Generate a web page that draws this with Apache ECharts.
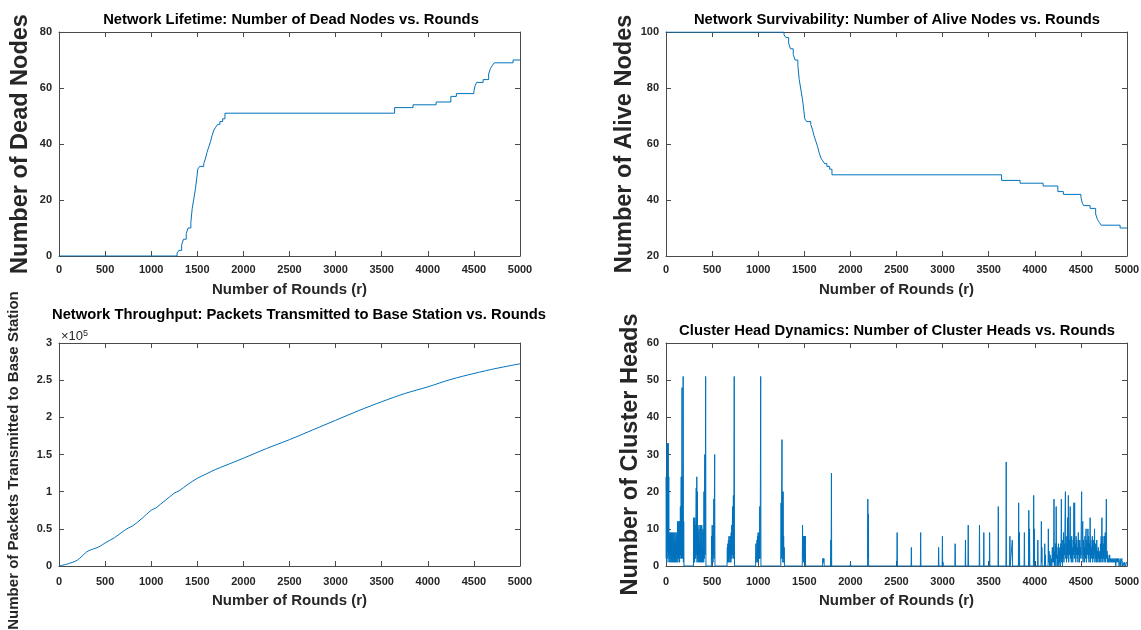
<!DOCTYPE html>
<html><head><meta charset="utf-8">
<script src="https://cdn.jsdelivr.net/npm/echarts@6/dist/echarts.min.js"></script>
<style>html,body{margin:0;padding:0;background:#fff}#c{width:1141px;height:630px}</style>
</head><body><div id="c"></div>
<script>
// ---- data ----
const stepRounds = [0,1280,1300,1330,1350,1380,1400,1430,1445,1460,1480,1495,1505,1525,1570,1590,1605,1625,1645,1660,1680,1700,1720,1745,1775,1800,3640,3840,4090,4250,4310,4500,4515,4530,4600,4660,4680,4700,4720,4925,5000];
const deadNodes  = [0,1,2,4,6,8,10,12,17,20,24,28,31,32,33,35,37,39,41,43,45,46,47,48,49,51,53,54,55,57,58,59,61,62,63,65,67,68,69,70,70];
const aliveNodes = [100,99,98,96,94,92,90,88,83,80,76,72,69,68,67,65,63,61,59,57,55,54,53,52,51,49,47,46,45,43,42,41,39,38,37,35,33,32,31,30,30];

const throughputRounds = [0,100,200,300,350,400,450,500,600,700,750,800,900,1000,1050,1100,1200,1250,1300,1400,1500,1600,1700,1800,2000,2250,2500,2750,3000,3250,3500,3750,4000,4250,4500,4750,5000];
const packetsToBS = [0,3000,8000,19000,22000,24000,27000,31000,38000,47000,51000,54000,64000,75000,78000,83000,93000,98000,101000,110000,118000,124000,130000,135000,145000,158000,170000,183000,196000,209000,221000,232000,241000,251000,259000,266000,272000];

const clusterHeadPoints = [
[0,24],[3,2],[6,20],[9,1],[12,33],[15,4],[18,33],[21,2],[24,33],[27,3],[30,24],[33,1],[36,9],[39,2],[42,7],[45,1],[48,9],[51,3],[54,6],[57,1],[60,9],[63,2],[66,8],[69,1],[72,9],[75,3],[78,5],[81,1],[84,9],[87,2],[90,7],[93,1],[96,9],[99,2],[102,6],[105,1],[108,9],[111,3],[114,8],[117,1],[120,9],[123,2],[126,12],[129,1],[132,12],[135,2],[138,10],[141,3],[144,12],[147,1],[150,12],[153,2],[156,16],[159,3],[162,12],[165,24],[168,2],[171,16],[174,48],[177,2],[180,24],[183,3],[186,51],[189,1],[192,12],[195,0],
[298,0],[301,13],[304,2],[307,12],[310,1],[313,13],[316,3],[319,11],[322,2],[325,13],[328,21],[331,3],[334,24],[337,1],[340,20],[343,2],[346,10],[349,1],[352,9],[355,3],[358,11],[361,1],[364,6],[367,2],[370,10],[373,1],[376,11],[379,3],[382,7],[385,1],[388,11],[391,2],[394,5],[397,1],[400,10],[403,2],[406,9],[409,1],[412,20],[415,2],[418,20],[421,30],[424,3],[427,20],[430,51],[433,0],
[492,0],[495,8],[498,1],[501,11],[504,2],[507,9],[510,1],[513,11],[516,3],[519,18],[522,2],[525,18],[528,30],[531,0],
[662,0],[665,5],[668,1],[671,6],[674,2],[677,7],[680,1],[683,8],[686,3],[689,6],[692,1],[695,8],[698,2],[701,8],[704,1],[707,9],[710,3],[713,11],[716,2],[719,10],[722,16],[725,3],[728,12],[731,19],[734,2],[737,19],[740,51],[743,0],
[972,0],[975,6],[978,1],[981,4],[984,2],[987,7],[990,1],[993,8],[996,2],[999,9],[1002,1],[1005,8],[1008,3],[1011,9],[1014,2],[1017,16],[1020,2],[1023,16],[1027,51],[1030,0],
[1245,0],[1248,17],[1251,2],[1254,17],[1258,34],[1261,3],[1264,20],[1267,1],[1270,20],[1273,2],[1276,8],[1279,1],[1282,5],[1285,0],
[1478,0],[1481,11],[1484,2],[1487,8],[1490,1],[1493,8],[1496,2],[1499,8],[1502,1],[1505,8],[1508,2],[1511,8],[1514,0],
[1698,0],[1701,2],[1704,1],[1707,2],[1710,1],[1713,2],[1716,0],
[1785,0],[1788,7],[1791,0],[1794,25],[1797,0],
[1998,0],[2001,1],[2004,0],
[2186,0],[2189,18],[2192,2],[2195,14],[2198,0],
[2504,0],[2507,9],[2510,0],
[2658,0],[2661,5],[2664,0],
[2759,0],[2762,9],[2765,0],
[2954,0],[2957,5],[2960,0],[2995,0],[2998,8],[3001,0],[3004,1],[3007,0],
[3133,0],[3136,6],[3139,0],
[3245,0],[3248,7],[3251,0],[3275,0],[3278,11],[3281,0],
[3397,0],[3400,11],[3403,0],[3444,0],[3447,9],[3450,0],
[3507,0],[3510,9],[3513,0],
[3601,0],[3604,16],[3607,0],
[3687,0],[3690,28],[3693,0],
[3727,0],[3730,8],[3733,0],[3753,0],[3756,7],[3759,0],
[3822,0],[3825,17],[3828,0],[3833,9],[3836,0],
[3884,0],[3887,9],[3890,0],[3932,0],[3935,15],[3938,0],[3943,10],[3946,0],
[3985,0],[3988,19],[3991,1],[3994,10],[3997,0],[4030,0],[4033,7],[4036,0],
[4068,0],[4071,12],[4074,1],[4077,5],[4080,0],[4105,0],[4108,6],[4111,0],[4114,3],[4117,0],
[4144,0],[4147,10],[4150,1],[4155,4],[4160,0],[4167,3],[4170,0],[4180,2],[4185,0],[4190,5],[4195,1],
[4200,5],[4204,1],[4208,18],[4212,0],[4216,4],[4220,1],[4224,6],[4228,0],[4232,16],[4236,2],[4240,5],[4244,0],[4248,3],[4252,1],[4256,6],[4260,0],[4264,5],[4268,1],[4272,4],[4276,0],[4280,6],[4284,2],[4288,18],[4292,1],[4296,5],[4300,0],[4304,7],[4308,2],[4312,9],[4316,1],[4320,6],[4324,3],[4328,13],[4332,20],[4336,2],[4340,8],[4344,1],[4348,6],[4352,3],[4356,13],[4360,2],[4364,19],[4368,1],[4372,7],[4376,3],[4380,9],[4384,16],[4388,2],[4392,6],[4396,1],[4400,8],[4404,2],[4408,5],[4412,1],[4416,7],[4420,3],[4424,17],[4428,2],[4432,17],[4436,4],[4440,6],[4444,1],[4448,8],[4452,3],[4456,7],[4460,2],[4464,5],[4468,1],[4472,9],[4476,3],[4480,6],[4484,1],[4488,7],[4492,2],[4496,5],[4500,3],[4504,12],[4508,20],[4512,2],[4516,8],[4520,12],[4524,1],[4528,7],[4532,3],[4536,5],[4540,1],[4544,8],[4548,2],[4552,6],[4556,10],[4560,1],[4564,7],[4568,3],[4572,5],[4576,10],[4580,2],[4584,8],[4588,1],[4592,6],[4596,3],[4600,13],[4604,1],[4608,7],[4612,2],[4616,5],[4620,3],[4624,8],[4628,1],[4632,6],[4636,2],[4640,7],[4644,3],[4648,10],[4652,1],[4656,6],[4660,2],[4664,5],[4668,1],[4672,7],[4676,2],[4680,4],[4684,1],[4688,5],[4692,2],[4696,3],[4700,1],[4704,4],[4708,2],[4712,6],[4716,1],[4720,8],[4724,2],[4728,13],[4732,1],[4736,7],[4740,8],[4744,2],[4748,6],[4752,1],[4756,8],[4760,2],[4764,9],[4768,1],[4772,6],[4776,18],[4780,2],[4784,4],[4788,1],[4792,3],[4796,1],[4800,2],[4806,1],[4812,3],[4818,1],[4824,2],[4830,1],[4836,2],[4842,1],[4848,2],[4854,1],[4860,2],[4866,1],[4872,2],[4878,0],[4884,2],[4890,1],[4896,2],[4902,1],[4908,2],[4914,0],[4920,1],[4926,2],[4932,0],[4938,1],[4944,2],[4950,0],[4956,1],[4962,1],[4968,0],[4974,1],[4980,1],[4986,0],[4992,1],[4998,1],[5000,1]
];

const chartTitles = [
  'Network Lifetime: Number of Dead Nodes vs. Rounds',
  'Network Survivability: Number of Alive Nodes vs. Rounds',
  'Network Throughput: Packets Transmitted to Base Station vs. Rounds',
  'Cluster Head Dynamics: Number of Cluster Heads vs. Rounds'
];
const yNames = ['Number of Dead Nodes','Number of Alive Nodes','Number of Packets Transmitted to Base Station','Number of Cluster Heads'];
const xName = 'Number of Rounds (r)';

// ---- layout / style ----
const FONT = '"Liberation Sans", Arial, Helvetica, sans-serif';
const AX = '#262626';
const BOX = '#4a4a4a';
const LINE = '#0072BD';
const grids = [
  {left:59, top:32, width:461, height:224, outerBoundsMode:'none', containLabel:false},
  {left:666, top:32, width:461, height:224, outerBoundsMode:'none', containLabel:false},
  {left:59, top:343, width:461, height:223, outerBoundsMode:'none', containLabel:false},
  {left:666, top:343, width:461, height:223, outerBoundsMode:'none', containLabel:false}
];
const yCfg = [
  {min:0, max:80, interval:20, fmt:v=>String(v), nameSize:23.5, nameGap:26, namePad:[0,0,0,0]},
  {min:20, max:100, interval:20, fmt:v=>String(v), nameSize:23.5, nameGap:29, namePad:[0,0,0,0]},
  {min:0, max:300000, interval:50000, fmt:v=>String(v/100000), nameSize:15, nameGap:38, namePad:[0,12,0,0]},
  {min:0, max:60, interval:10, fmt:v=>String(v), nameSize:23.5, nameGap:21, namePad:[0,0,0,0]}
];
const titlePos = [
  {x:291, y:12}, {x:897, y:12}, {x:299, y:307}, {x:897, y:323}
];

const xAxes = [], yAxes = [], titles = [];
grids.forEach((g, i) => {
  const bottomRow = i >= 2;
  xAxes.push({
    type:'value', gridIndex:i, min:0, max:5000, interval:500, position:'bottom',
    axisLine:{show:true, onZero:false, lineStyle:{color:BOX, width:1}},
    axisTick:{show:true, inside:true, length:5, lineStyle:{color:BOX}},
    splitLine:{show:false},
    axisLabel:{show:true, color:AX, fontFamily:FONT, fontWeight:'bold', fontSize:11, margin: bottomRow ? 10 : 8,
      formatter:v=>String(v)},
    name:xName, nameLocation:'middle', nameGap: bottomRow ? 27 : 26,
    nameTextStyle:{color:AX, fontFamily:FONT, fontWeight:'bold', fontSize:15}
  });
  xAxes.push({
    type:'value', gridIndex:i, min:0, max:5000, interval:500, position:'top',
    axisLine:{show:true, onZero:false, lineStyle:{color:BOX, width:1}},
    axisTick:{show:true, inside:true, length:5, lineStyle:{color:BOX}},
    splitLine:{show:false}, axisLabel:{show:false}
  });
  const c = yCfg[i];
  yAxes.push({
    type:'value', gridIndex:i, min:c.min, max:c.max, interval:c.interval, position:'left',
    axisLine:{show:true, onZero:false, lineStyle:{color:BOX, width:1}},
    axisTick:{show:true, inside:true, length:5, lineStyle:{color:BOX}},
    splitLine:{show:false},
    axisLabel:{show:true, color:AX, fontFamily:FONT, fontWeight:'bold', fontSize:11, margin:7, formatter:c.fmt},
    name:yNames[i], nameLocation:'middle', nameRotate:90, nameGap:c.nameGap,
    nameTextStyle:{color:AX, fontFamily:FONT, fontWeight:'bold', fontSize:c.nameSize, padding:c.namePad}
  });
  yAxes.push({
    type:'value', gridIndex:i, min:c.min, max:c.max, interval:c.interval, position:'right',
    axisLine:{show:true, onZero:false, lineStyle:{color:BOX, width:1}},
    axisTick:{show:true, inside:true, length:5, lineStyle:{color:BOX}},
    splitLine:{show:false}, axisLabel:{show:false}
  });
  titles.push({
    text:chartTitles[i], left:titlePos[i].x, top:titlePos[i].y, textAlign:'center', padding:0,
    textStyle:{color:'#000', fontFamily:FONT, fontWeight:'bold', fontSize:14.8}
  });
});
titles.push({
  text:'×10{s|5}', left:61, top:329, padding:0,
  textStyle:{color:AX, fontFamily:FONT, fontWeight:'normal', fontSize:13,
    rich:{s:{fontSize:9, verticalAlign:'top', padding:[0,0,6,0], fontFamily:FONT, color:AX}}}
});

const lineStyle = {color:LINE, width:1};
const series = [
  {type:'line', xAxisIndex:0, yAxisIndex:0, step:'end', showSymbol:false, lineStyle, itemStyle:{color:LINE},
   data: stepRounds.map((r,k)=>[r, deadNodes[k]])},
  {type:'line', xAxisIndex:2, yAxisIndex:2, step:'end', showSymbol:false, lineStyle, itemStyle:{color:LINE},
   data: stepRounds.map((r,k)=>[r, aliveNodes[k]])},
  {type:'line', xAxisIndex:4, yAxisIndex:4, showSymbol:false, smooth:0.3, lineStyle, itemStyle:{color:LINE},
   data: throughputRounds.map((r,k)=>[r, packetsToBS[k]])},
  {type:'line', xAxisIndex:6, yAxisIndex:6, showSymbol:false, lineStyle, itemStyle:{color:LINE},
   data: clusterHeadPoints}
];

const chart = echarts.init(document.getElementById('c'), null, {renderer:'canvas'});
chart.setOption({
  backgroundColor:'#fff', animation:false,
  title:titles, grid:grids, xAxis:xAxes, yAxis:yAxes, series
});
</script></body></html>
